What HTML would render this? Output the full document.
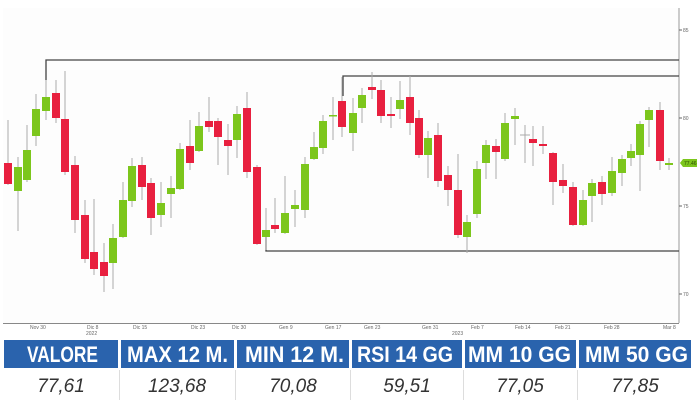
<!DOCTYPE html>
<html><head><meta charset="utf-8"><style>
html,body{margin:0;padding:0;background:#fff;width:700px;height:400px;overflow:hidden}
svg{position:absolute;left:0;top:0}
.t{font-family:"Liberation Sans",sans-serif;font-size:5px;fill:#666}
.h{font-family:"Liberation Sans Narrow","Liberation Sans",sans-serif;font-weight:bold;font-size:22px;fill:#fff}
.v{font-family:"Liberation Sans",sans-serif;font-style:italic;font-size:19px;fill:#333}
</style></head><body>
<svg width="700" height="400" viewBox="0 0 700 400">
<rect x="0" y="0" width="700" height="400" fill="#fff"/>
<rect x="3" y="8" width="676" height="315" fill="#fdfdfd"/>
<line x1="679" y1="8" x2="679" y2="323" stroke="#999" stroke-width="1"/>
<line x1="3" y1="323.5" x2="679" y2="323.5" stroke="#888" stroke-width="1"/>
<g stroke="#444" stroke-width="1.3" fill="none">
<polyline points="46,80 46,60 679,60"/>
<polyline points="343,96 343,76 679,76"/>
<polyline points="266,230 266,251 679,251"/>
</g>
<g stroke="#aaa" stroke-width="1">
<line x1="8" y1="120" x2="8" y2="185"/><line x1="18" y1="157" x2="18" y2="231"/><line x1="27" y1="125" x2="27" y2="182"/><line x1="36" y1="94" x2="36" y2="146"/><line x1="46" y1="80" x2="46" y2="120"/><line x1="56" y1="80" x2="56" y2="123"/><line x1="65" y1="71" x2="65" y2="175"/><line x1="75" y1="156" x2="75" y2="233"/><line x1="85" y1="200" x2="85" y2="263"/><line x1="94" y1="199" x2="94" y2="275"/><line x1="104" y1="243" x2="104" y2="292"/><line x1="113" y1="224" x2="113" y2="289"/><line x1="123" y1="182" x2="123" y2="238"/><line x1="132" y1="158" x2="132" y2="207"/><line x1="142" y1="157" x2="142" y2="200"/><line x1="151" y1="178" x2="151" y2="235"/><line x1="161" y1="182" x2="161" y2="227"/><line x1="171" y1="176" x2="171" y2="218"/><line x1="180" y1="143" x2="180" y2="190"/><line x1="190" y1="120" x2="190" y2="170"/><line x1="199" y1="112" x2="199" y2="152"/><line x1="209" y1="97" x2="209" y2="132"/><line x1="218" y1="118" x2="218" y2="165"/><line x1="228" y1="124" x2="228" y2="175"/><line x1="237" y1="106" x2="237" y2="158"/><line x1="247" y1="92" x2="247" y2="178"/><line x1="257" y1="165" x2="257" y2="245"/><line x1="266" y1="208" x2="266" y2="250"/><line x1="275" y1="198" x2="275" y2="233"/><line x1="285" y1="176" x2="285" y2="234"/><line x1="295" y1="190" x2="295" y2="227"/><line x1="305" y1="157" x2="305" y2="218"/><line x1="314" y1="132" x2="314" y2="160"/><line x1="323" y1="115" x2="323" y2="154"/><line x1="333" y1="97" x2="333" y2="140"/><line x1="342" y1="77" x2="342" y2="137"/>
<line x1="353" y1="98" x2="353" y2="151"/><line x1="362" y1="88" x2="362" y2="123"/><line x1="372" y1="72" x2="372" y2="99"/><line x1="381" y1="80" x2="381" y2="123"/><line x1="391" y1="97" x2="391" y2="128"/><line x1="400" y1="81" x2="400" y2="119"/><line x1="410" y1="76" x2="410" y2="135"/><line x1="419" y1="110" x2="419" y2="158"/><line x1="428" y1="131" x2="428" y2="178"/><line x1="438" y1="123" x2="438" y2="187"/><line x1="448" y1="166" x2="448" y2="206"/><line x1="458" y1="154" x2="458" y2="238"/><line x1="467" y1="215" x2="467" y2="253"/><line x1="477" y1="161" x2="477" y2="218"/><line x1="486" y1="140" x2="486" y2="179"/><line x1="496" y1="139" x2="496" y2="179"/><line x1="505" y1="113" x2="505" y2="161"/><line x1="515" y1="108" x2="515" y2="145"/><line x1="525" y1="125" x2="525" y2="163"/><line x1="520" y1="135" x2="530" y2="135"/><line x1="533" y1="126" x2="533" y2="166"/><line x1="543" y1="126" x2="543" y2="154"/><line x1="553" y1="152" x2="553" y2="205"/><line x1="563" y1="164" x2="563" y2="193"/><line x1="573" y1="182" x2="573" y2="226"/><line x1="583" y1="190" x2="583" y2="226"/><line x1="592" y1="179" x2="592" y2="222"/><line x1="602" y1="176" x2="602" y2="205"/><line x1="612" y1="157" x2="612" y2="196"/><line x1="622" y1="155" x2="622" y2="186"/><line x1="631" y1="144" x2="631" y2="166"/><line x1="640" y1="121" x2="640" y2="191"/><line x1="649" y1="107" x2="649" y2="147"/><line x1="660" y1="102" x2="660" y2="170"/><line x1="669" y1="158" x2="669" y2="170"/>
</g>
<g fill="#e8203f">
<rect x="4" y="163" width="8" height="21"/><rect x="52" y="93" width="8" height="25"/><rect x="61" y="119" width="8" height="53"/><rect x="71" y="165" width="8" height="55"/><rect x="81" y="215" width="8" height="44"/><rect x="90" y="252" width="8" height="17"/><rect x="100" y="262" width="8" height="14"/><rect x="138" y="165" width="8" height="22"/><rect x="147" y="183" width="8" height="35"/><rect x="186" y="146" width="8" height="17"/><rect x="205" y="121" width="8" height="6"/><rect x="214" y="121" width="8" height="16"/><rect x="224" y="140" width="8" height="6"/><rect x="243" y="108" width="8" height="64"/><rect x="253" y="167" width="8" height="77"/><rect x="271" y="225" width="8" height="4"/><rect x="338" y="101" width="8" height="26"/>
<rect x="368" y="87" width="8" height="3"/><rect x="377" y="90" width="8" height="26"/><rect x="387" y="114" width="8" height="2"/><rect x="406" y="97" width="8" height="26"/><rect x="415" y="118" width="8" height="37"/><rect x="434" y="135" width="8" height="46"/><rect x="444" y="175" width="8" height="15"/><rect x="454" y="190" width="8" height="45"/><rect x="492" y="146" width="8" height="6"/><rect x="529" y="139" width="8" height="4"/><rect x="539" y="144" width="8" height="2"/><rect x="549" y="153" width="8" height="29"/><rect x="559" y="180" width="8" height="6"/><rect x="569" y="187" width="8" height="38"/><rect x="598" y="182" width="8" height="12"/><rect x="656" y="110" width="8" height="51"/>
</g>
<g fill="#7cc61c">
<rect x="14" y="167" width="8" height="24"/><rect x="23" y="150" width="8" height="30"/><rect x="32" y="109" width="8" height="27"/><rect x="42" y="97" width="8" height="14"/><rect x="109" y="238" width="8" height="25"/><rect x="119" y="200" width="8" height="37"/><rect x="128" y="166" width="8" height="35"/><rect x="157" y="203" width="8" height="12"/><rect x="167" y="188" width="8" height="6"/><rect x="176" y="149" width="8" height="40"/><rect x="195" y="126" width="8" height="25"/><rect x="233" y="114" width="8" height="26"/><rect x="262" y="230" width="8" height="7"/><rect x="281" y="213" width="8" height="20"/><rect x="291" y="205" width="8" height="4"/><rect x="301" y="164" width="8" height="46"/><rect x="310" y="147" width="8" height="12"/><rect x="319" y="121" width="8" height="27"/><rect x="329" y="115" width="8" height="1.5"/>
<rect x="349" y="113" width="8" height="20"/><rect x="358" y="95" width="8" height="13"/><rect x="396" y="100" width="8" height="9"/><rect x="424" y="138" width="8" height="17"/><rect x="463" y="222" width="8" height="15"/><rect x="473" y="169" width="8" height="45"/><rect x="482" y="145" width="8" height="18"/><rect x="501" y="123" width="8" height="36"/><rect x="511" y="116" width="8" height="3"/><rect x="579" y="200" width="8" height="25"/><rect x="588" y="183" width="8" height="13"/><rect x="608" y="171" width="8" height="22"/><rect x="618" y="159" width="8" height="14"/><rect x="627" y="151" width="8" height="7"/><rect x="636" y="124" width="8" height="31"/><rect x="645" y="110" width="8" height="10"/><rect x="665" y="163" width="8" height="2"/>
</g>
<g stroke="#666" stroke-width="1"><line x1="679" y1="30" x2="682" y2="30"/><line x1="679" y1="118" x2="682" y2="118"/><line x1="679" y1="206" x2="682" y2="206"/><line x1="679" y1="294" x2="682" y2="294"/></g>
<text class="t" x="683" y="32">85</text><text class="t" x="683" y="120">80</text><text class="t" x="683" y="208">75</text><text class="t" x="683" y="296">70</text>
<path d="M680,163 L683,159 L697,159 L697,167 L683,167 Z" fill="#7cc61c"/>
<text class="t" x="684" y="165" style="fill:#2a4a00">77.46</text>
<g class="t">
<text x="30" y="329">Nov 30</text><text x="87" y="329">Dic 8</text><text x="86" y="335">2022</text><text x="133" y="329">Dic 15</text><text x="191" y="329">Dic 23</text><text x="232" y="329">Dic 30</text><text x="279" y="329">Gen 9</text><text x="325" y="329">Gen 17</text><text x="364" y="329">Gen 23</text><text x="422" y="329">Gen 31</text><text x="452" y="335">2023</text><text x="471" y="329">Feb 7</text><text x="515" y="329">Feb 14</text><text x="555" y="329">Feb 21</text><text x="604" y="329">Feb 28</text><text x="663" y="329">Mar 8</text>
</g>
<g fill="#2a63ad">
<rect x="4" y="340" width="114" height="28"/><rect x="121" y="340" width="113" height="28"/><rect x="237" y="340" width="112" height="28"/><rect x="352" y="340" width="110" height="28"/><rect x="465" y="340" width="111" height="28"/><rect x="579" y="340" width="112" height="28"/>
</g>
<g class="h">
<text x="27" y="362" textLength="71" lengthAdjust="spacingAndGlyphs">VALORE</text>
<text x="127" y="362" textLength="101" lengthAdjust="spacingAndGlyphs">MAX 12 M.</text>
<text x="245" y="362" textLength="99" lengthAdjust="spacingAndGlyphs">MIN 12 M.</text>
<text x="357" y="362" textLength="96" lengthAdjust="spacingAndGlyphs">RSI 14 GG</text>
<text x="468" y="362" textLength="103" lengthAdjust="spacingAndGlyphs">MM 10 GG</text>
<text x="585" y="362" textLength="103" lengthAdjust="spacingAndGlyphs">MM 50 GG</text>
</g>
<g stroke="#ddd" stroke-width="1"><line x1="119.5" y1="370" x2="119.5" y2="400"/><line x1="235.5" y1="370" x2="235.5" y2="400"/><line x1="350.5" y1="370" x2="350.5" y2="400"/><line x1="463.5" y1="370" x2="463.5" y2="400"/><line x1="577.5" y1="370" x2="577.5" y2="400"/></g>
<g class="v" text-anchor="middle">
<text x="61" y="392">77,61</text><text x="177" y="392">123,68</text><text x="293" y="392">70,08</text><text x="407" y="392">59,51</text><text x="520" y="392">77,05</text><text x="635" y="392">77,85</text>
</g>
</svg>
</body></html>
